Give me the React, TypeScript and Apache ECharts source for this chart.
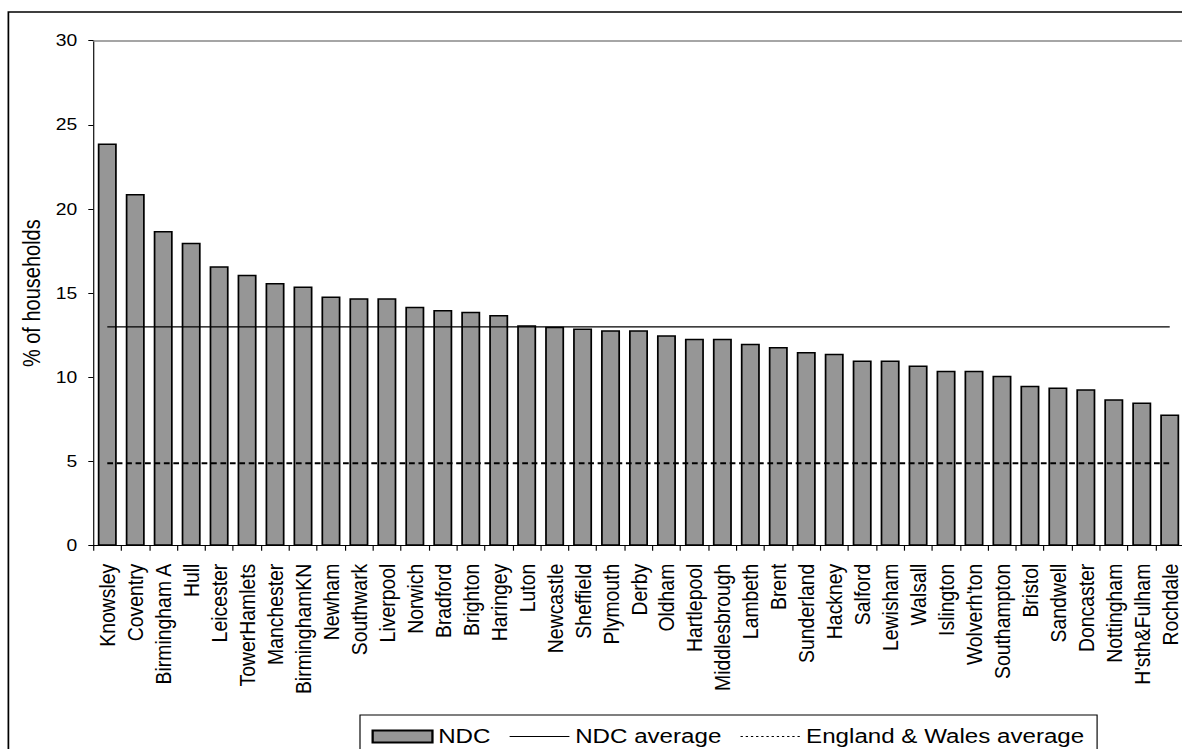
import React, { useEffect, useRef } from "react";
import * as echarts from "echarts";

const categories = [
  "Knowsley", "Coventry", "Birmingham A", "Hull", "Leicester", "TowerHamlets",
  "Manchester", "BirminghamKN", "Newham", "Southwark", "Liverpool", "Norwich",
  "Bradford", "Brighton", "Haringey", "Luton", "Newcastle", "Sheffield",
  "Plymouth", "Derby", "Oldham", "Hartlepool", "Middlesbrough", "Lambeth",
  "Brent", "Sunderland", "Hackney", "Salford", "Lewisham", "Walsall",
  "Islington", "Wolverh'ton", "Southampton", "Bristol", "Sandwell", "Doncaster",
  "Nottingham", "H'sth&Fulham", "Rochdale",
];

const ndcValues = [
  23.9, 20.9, 18.7, 18.0, 16.6, 16.1,
  15.6, 15.4, 14.8, 14.7, 14.7, 14.2,
  14.0, 13.9, 13.7, 13.1, 13.0, 12.9,
  12.8, 12.8, 12.5, 12.3, 12.3, 12.0,
  11.8, 11.5, 11.4, 11.0, 11.0, 10.7,
  10.4, 10.4, 10.1, 9.5, 9.4, 9.3,
  8.7, 8.5, 7.8,
];

const NDC_AVERAGE = 13.0;
const ENGLAND_WALES_AVERAGE = 4.9;

const yTicks = { min: 0, max: 30, interval: 5 };

const FONT = "'Liberation Sans', Arial, sans-serif";
// the reference picture is stretched horizontally
const SX = 1.15;
const CHART_W = 1044;
const CHART_H = 749;

export default function App() {
  const ref = useRef<HTMLDivElement>(null);

  useEffect(() => {
    if (!ref.current) return;
    const chart = echarts.init(ref.current, null, { renderer: "svg" });
    const ndcAvgData = categories.map(() => NDC_AVERAGE);
    const ewAvgData = categories.map(() => ENGLAND_WALES_AVERAGE);
    chart.setOption({
      animation: false,
      backgroundColor: "#ffffff",
      textStyle: { fontFamily: FONT },
      grid: {
        left: 93.3 / SX,
        top: 40.7,
        right: CHART_W - 1183.7 / SX,
        bottom: CHART_H - 545.7,
        containLabel: false,
        outerBoundsMode: "none",
      },
      xAxis: [
        {
          type: "category",
          data: categories,
          boundaryGap: true,
          axisLine: { show: true, lineStyle: { color: "#000", width: 1 } },
          axisTick: { show: true, length: 5, inside: false, alignWithLabel: false, lineStyle: { color: "#000" } },
          axisLabel: {
            interval: 0,
            rotate: 90,
            fontSize: 19.4,
            margin: 18,
            color: "#000",
            fontFamily: FONT,
          },
          splitLine: { show: false },
        },
        {
          type: "category",
          data: categories,
          position: "top",
          axisLine: { show: true, lineStyle: { color: "#888", width: 1.5 } },
          axisTick: { show: false },
          axisLabel: { show: false },
          splitLine: { show: false },
        },
      ],
      yAxis: {
        type: "value",
        min: yTicks.min,
        max: yTicks.max,
        interval: yTicks.interval,
        name: "% of households",
        nameLocation: "middle",
        nameRotate: 90,
        nameGap: 37,
        nameTextStyle: { fontSize: 20, color: "#000", fontFamily: FONT },
        axisLine: { show: true, lineStyle: { color: "#000", width: 1 } },
        axisTick: { show: true, length: 5 / SX, inside: false, lineStyle: { color: "#000" } },
        axisLabel: { fontSize: 16.8, margin: 16 / SX, color: "#000", fontFamily: FONT },
        splitLine: { show: false },
      },
      legend: {
        data: [
          { name: "NDC", icon: "rect" },
          {
            name: "NDC average",
            itemStyle: { opacity: 0, color: "transparent", borderWidth: 0 },
            lineStyle: { color: "#000", width: 1.2, type: "solid" },
          },
          {
            name: "England & Wales average",
            itemStyle: { opacity: 0, color: "transparent", borderWidth: 0 },
            lineStyle: { color: "#000", width: 1.2, type: [2, 2.5] },
          },
        ],
        left: 360 / SX,
        top: 715,
        orient: "horizontal",
        borderColor: "#000",
        borderWidth: 1,
        padding: [11, 11, 10, 10],
        itemWidth: 52,
        itemHeight: 12,
        itemGap: 16,
        textStyle: { fontSize: 21, color: "#000", fontFamily: FONT },
      },
      series: [
        {
          name: "NDC",
          type: "bar",
          data: ndcValues,
          barWidth: 19 / SX,
          itemStyle: { color: "#969696", borderColor: "#000", borderWidth: 1.5 },
        },
        {
          name: "NDC average",
          type: "line",
          data: ndcAvgData,
          symbol: "none",
          lineStyle: { color: "#000", width: 1.2, type: "solid" },
          itemStyle: { color: "#000" },
        },
        {
          name: "England & Wales average",
          type: "line",
          data: ewAvgData,
          symbol: "none",
          lineStyle: { color: "#000", width: 2, type: [5, 3.2] },
          itemStyle: { color: "#000" },
        },
      ],
      graphic: [
        {
          type: "rect",
          shape: { x: 7.3, y: 12, width: 1400, height: 900 },
          style: { fill: "none", stroke: "#000", lineWidth: 1.5 },
          silent: true,
        },
      ],
    });
    return () => chart.dispose();
  }, []);

  return (
    <div
      style={{
        position: "fixed",
        left: 0,
        top: 0,
        width: 1182,
        height: 749,
        overflow: "hidden",
        background: "#fff",
      }}
    >
      <div
        ref={ref}
        style={{
          width: CHART_W,
          height: CHART_H,
          transform: `scaleX(${SX})`,
          transformOrigin: "0 0",
        }}
      />
    </div>
  );
}
